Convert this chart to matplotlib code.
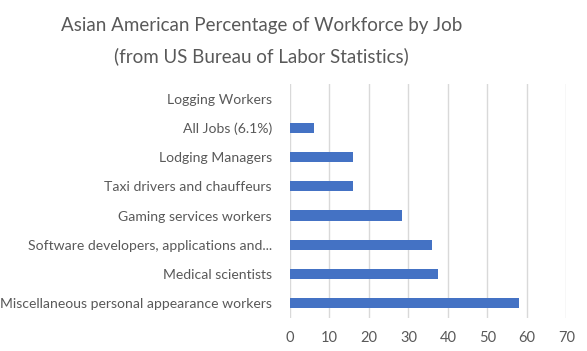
import matplotlib
matplotlib.use("Agg")
import matplotlib.pyplot as plt

categories = [
    "Miscellaneous personal appearance workers",
    "Medical scientists",
    "Software developers, applications and...",
    "Gaming services workers",
    "Taxi drivers and chauffeurs",
    "Lodging Managers",
    "All Jobs (6.1%)",
    "Logging Workers",
]
values = [58.1, 37.4, 35.9, 28.3, 15.9, 15.9, 6.1, 0.0]
xticks = [0, 10, 20, 30, 40, 50, 60, 70]

plt.rcParams['font.family'] = ['Lato', 'DejaVu Sans']
text_color = "#595959"

fig = plt.figure(figsize=(5.87, 3.51), dpi=100)
ax = fig.add_axes([0.494, 0.094, 0.471, 0.667])

ypos = list(range(len(categories)))
ax.barh(ypos, values, height=0.35, color="#4472C4", zorder=3)
ax.set_yticks(ypos)
ax.set_yticklabels(categories, fontsize=10.1, color=text_color)
ax.set_ylim(-0.5, len(categories) - 0.5)
ax.set_xlim(0, 70)
ax.set_xticks(xticks)
ax.set_xticklabels([str(t) for t in xticks], fontsize=10.5, color=text_color)
ax.tick_params(axis='y', length=0, pad=13)
ax.tick_params(axis='x', length=0, pad=9)
ax.grid(axis='x', color="#D9D9D9", linewidth=1, zorder=0)
for s in ax.spines.values():
    s.set_visible(False)

fig.text(0.446, 0.928, "Asian American Percentage of Workforce by Job",
         ha='center', va='center', fontsize=13.5, color=text_color)
fig.text(0.446, 0.840, "(from US Bureau of Labor Statistics)",
         ha='center', va='center', fontsize=13.5, color=text_color)

fig.savefig("out.png", dpi=100)
